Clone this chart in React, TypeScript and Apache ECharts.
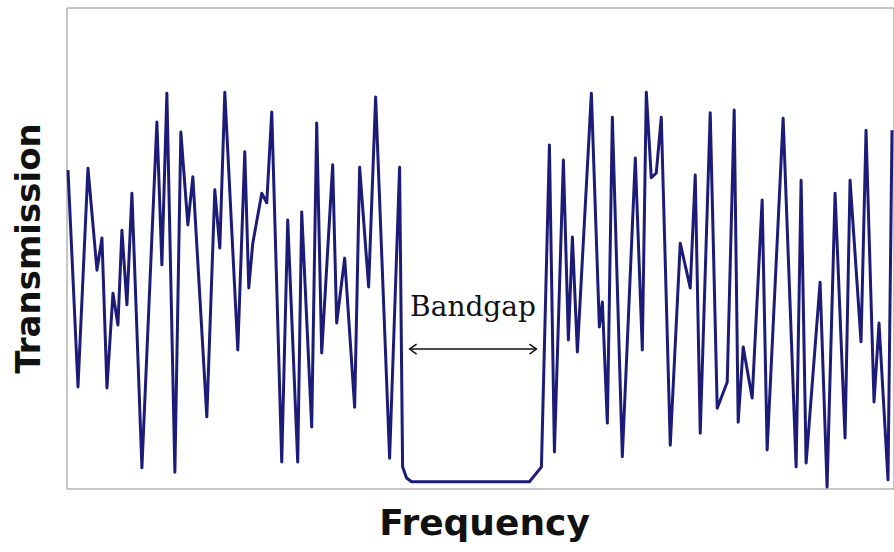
import React, { useEffect, useRef } from "react";
import * as echarts from "echarts";

// Frequency (arbitrary units) and transmission (% of full scale) of the spectrum
const freq = [
  1, 11, 21, 30, 35, 40, 46, 51, 55, 60, 65, 75, 90, 95, 100, 108, 114, 121, 126,
  140, 148, 153, 158, 171, 178, 182, 186, 195, 200, 205, 215, 221, 231, 235, 245,
  250, 255, 266, 270, 278, 288, 293, 302, 309, 323, 333, 336, 340, 345, 463, 475,
  483, 488, 497, 502, 506, 511, 525, 533, 536, 541, 546, 556, 569, 576, 580, 585,
  590, 595, 604, 614, 624, 629, 634, 644, 651, 661, 668, 672, 677, 686, 696, 701,
  717, 730, 735, 740, 754, 761, 769, 779, 784, 795, 800, 808, 813, 822, 826,
];
const transmission = [
  66.3, 21.2, 66.7, 45.5, 52.2, 21.0, 40.7, 34.1, 53.8, 38.3, 61.5, 4.4, 76.3, 46.6,
  82.3, 3.5, 74.2, 54.9, 64.9, 15.0, 62.2, 50.1, 82.5, 28.9, 70.1, 41.8, 51.1, 61.5,
  59.5, 78.4, 5.6, 55.9, 5.6, 57.6, 12.9, 76.1, 28.3, 67.4, 34.5, 48.0, 17.0, 66.9,
  42.0, 81.5, 6.4, 66.9, 4.6, 2.3, 1.5, 1.5, 4.6, 71.5, 7.7, 68.4, 31.0, 52.4, 28.5,
  82.3, 33.7, 38.9, 13.7, 77.3, 6.7, 68.8, 28.9, 82.5, 64.7, 65.7, 77.3, 9.1, 51.1,
  41.8, 65.3, 11.6, 78.2, 16.8, 22.2, 78.8, 13.9, 29.5, 18.9, 60.1, 8.1, 77.1, 4.6,
  64.2, 5.4, 43.0, 0.4, 61.5, 10.6, 64.2, 30.6, 74.6, 18.1, 34.5, 1.9, 74.6,
];

// Band gap edges and where its annotation sits
const gapStart = 343;
const gapEnd = 470;
const arrowLevel = 29.1;
const labelLevel = 38.0;

const FREQ_MAX = 828;
const T_MAX = 100;

export default function App() {
  const ref = useRef<HTMLDivElement>(null);

  useEffect(() => {
    if (!ref.current) return;
    const chart = echarts.init(ref.current, null, { renderer: "svg" });
    const data = freq.map((f, i) => [f, transmission[i]]);

    chart.setOption({
      animation: false,
      backgroundColor: "#ffffff",
      grid: {
        left: 67,
        top: 8,
        width: 828,
        height: 481,
        show: true,
        borderColor: "#8e8e8e",
        borderWidth: 1,
        backgroundColor: "transparent",
      },
      xAxis: {
        type: "value",
        min: 0,
        max: FREQ_MAX,
        name: "Frequency",
        nameLocation: "middle",
        nameGap: 15,
        nameTextStyle: {
          fontFamily: "DejaVu Sans",
          fontWeight: "bold",
          fontSize: 36,
          color: "#111111",
          verticalAlign: "top",
          padding: [0, 0, 0, 8],
        },
        axisLine: { show: false },
        axisTick: { show: false },
        axisLabel: { show: false },
        splitLine: { show: false },
      },
      yAxis: {
        type: "value",
        min: 0,
        max: T_MAX,
        name: "Transmission",
        nameLocation: "middle",
        nameRotate: 90,
        nameGap: 22,
        nameTextStyle: {
          fontFamily: "DejaVu Sans",
          fontWeight: "bold",
          fontSize: 34,
          color: "#111111",
        },
        axisLine: { show: false },
        axisTick: { show: false },
        axisLabel: { show: false },
        splitLine: { show: false },
      },
      series: [
        {
          type: "line",
          data,
          symbol: "none",
          lineStyle: { color: "#1c1c78", width: 3, join: "round" },
        },
      ],
    });

    // Double-headed arrow and caption marking the band gap
    const [x1, y] = chart.convertToPixel({ gridIndex: 0 }, [gapStart, arrowLevel]);
    const [x2] = chart.convertToPixel({ gridIndex: 0 }, [gapEnd, arrowLevel]);
    const [tx, ty] = chart.convertToPixel({ gridIndex: 0 }, [
      (gapStart + gapEnd) / 2,
      labelLevel,
    ]);
    const head = 7;
    const spread = 5;
    chart.setOption({
      graphic: [
        {
          type: "line",
          shape: { x1, y1: y, x2, y2: y },
          style: { stroke: "#111111", lineWidth: 1.5 },
          z: 10,
        },
        {
          type: "polyline",
          shape: {
            points: [
              [x1 + head, y - spread],
              [x1, y],
              [x1 + head, y + spread],
            ],
          },
          style: { stroke: "#111111", lineWidth: 1.5, fill: "none" },
          z: 10,
        },
        {
          type: "polyline",
          shape: {
            points: [
              [x2 - head, y - spread],
              [x2, y],
              [x2 - head, y + spread],
            ],
          },
          style: { stroke: "#111111", lineWidth: 1.5, fill: "none" },
          z: 10,
        },
        {
          type: "text",
          x: tx,
          y: ty,
          style: {
            text: "Bandgap",
            fontFamily: "DejaVu Serif",
            fontSize: 28,
            fill: "#111111",
            align: "center",
            verticalAlign: "middle",
          },
          z: 10,
        },
      ],
    });

    return () => chart.dispose();
  }, []);

  return (
    <div
      ref={ref}
      style={{ position: "fixed", left: 0, top: 0, width: 894, height: 552, background: "#fff" }}
    />
  );
}
